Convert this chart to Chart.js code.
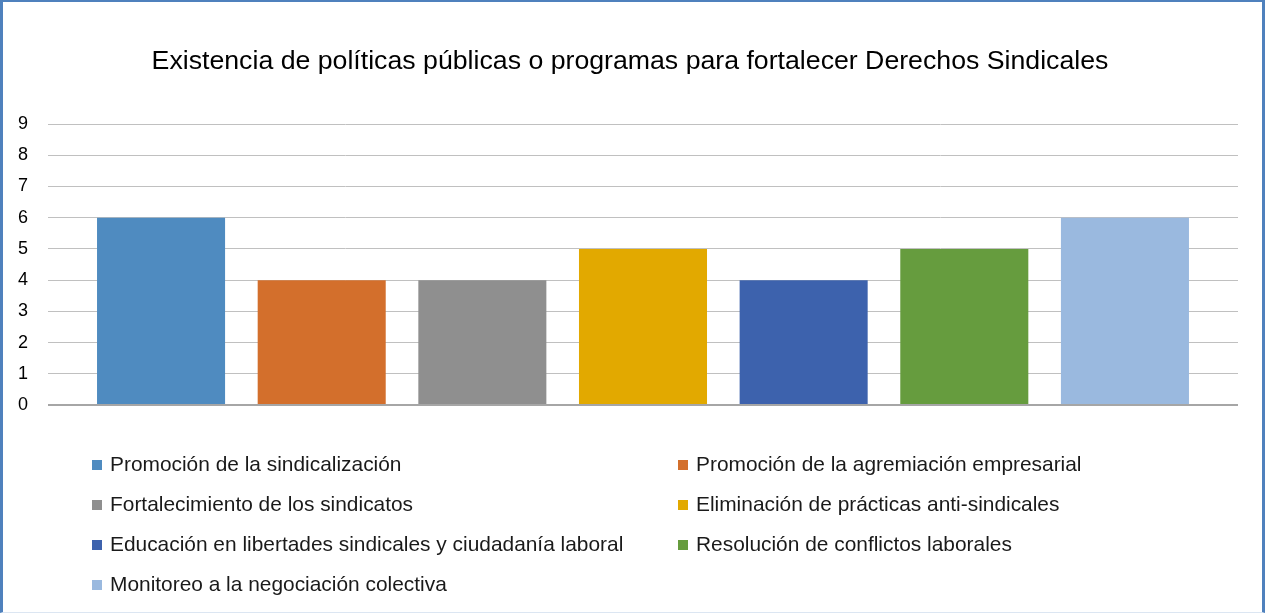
<!DOCTYPE html>
<html>
<head>
<meta charset="utf-8">
<script src="https://cdn.jsdelivr.net/npm/chart.js@4/dist/chart.umd.min.js"></script>
<style>
  html, body { margin: 0; padding: 0; background: #fff; }
  #wrap {
    position: relative; width: 1265px; height: 613px; box-sizing: border-box;
    border-left: 3px solid #4f81bd; border-right: 3px solid #4f81bd; border-top: 2px solid #4f81bd;
    border-bottom: 1px solid #dce6f2;
  }
  #chart { position: absolute; left: -3px; top: -2px; }
  #legend {
    position: absolute; left: 89px; top: 448px; width: 1170px;
    display: grid; grid-template-columns: 586px 500px; row-gap: 0;
    font-family: "Liberation Sans", Arial, sans-serif; font-size: 20.9px; color: #1a1a1a;
  }
  .item { height: 40px; line-height: 28px; white-space: nowrap; }
  .box { display: inline-block; width: 10px; height: 10px; margin-right: 8px; vertical-align: 1px; }
</style>
</head>
<body>
<div id="wrap">
  <canvas id="chart" width="1265" height="613"></canvas>
  <div id="legend"></div>
</div>
<script>
// data
var seriesNames = [
  "Promoción de la sindicalización",
  "Promoción de la agremiación empresarial",
  "Fortalecimiento de los sindicatos",
  "Eliminación de prácticas anti-sindicales",
  "Educación en libertades sindicales y ciudadanía laboral",
  "Resolución de conflictos laborales",
  "Monitoreo a la negociación colectiva"
];
var seriesValues = [6, 4, 4, 5, 4, 5, 6];
var barColors = ["#4f8bc0", "#d36f2c", "#8f8f8f", "#e2a900", "#3d62ad", "#669c3e", "#9ab9df"];
var yTicks = [0, 1, 2, 3, 4, 5, 6, 7, 8, 9];
var chartTitle = "Existencia de políticas públicas o programas para fortalecer Derechos Sindicales";

var datasets = seriesNames.map(function (name, i) {
  return {
    label: name,
    data: [seriesValues[i]],
    backgroundColor: barColors[i],
    categoryPercentage: 0.945,
    barPercentage: 0.797
  };
});

new Chart("chart", {
  type: "bar",
  data: { labels: [""], datasets: datasets },
  options: {
    responsive: false,
    animation: false,
    layout: { padding: { left: 0, right: 5, top: 0, bottom: 200 } },
    plugins: {
      legend: { display: false },
      tooltip: { enabled: false },
      title: {
        display: true,
        text: chartTitle,
        color: "#000",
        font: { family: "Liberation Sans", size: 26.7, weight: "normal" },
        padding: { top: 46, bottom: 46 }
      }
    },
    scales: {
      x: {
        ticks: { display: false },
        grid: { display: false },
        border: { display: false }
      },
      y: {
        min: 0,
        max: yTicks[yTicks.length - 1],
        afterBuildTicks: function (scale) {
          scale.ticks = yTicks.map(function (v) { return { value: v }; });
        },
        afterFit: function (scale) { scale.width = 48; },
        ticks: {
          color: "#000",
          padding: 20,
          font: { family: "Liberation Sans", size: 18 }
        },
        grid: {
          drawTicks: false,
          color: function (c) { return c.tick && c.tick.value === 0 ? "#a6a6a6" : "#c0c0c0"; },
          lineWidth: function (c) { return c.tick && c.tick.value === 0 ? 2 : 1; }
        },
        border: { display: false }
      },
      // empty right axis, only keeps space on the right of the plot
      yRight: {
        position: "right",
        min: 0,
        max: yTicks[yTicks.length - 1],
        afterFit: function (scale) { scale.width = 22; },
        ticks: { display: false },
        grid: { display: false },
        border: { display: false }
      }
    }
  }
});

// legend in two columns
var legend = document.getElementById("legend");
seriesNames.forEach(function (name, i) {
  var item = document.createElement("div");
  item.className = "item";
  var box = document.createElement("span");
  box.className = "box";
  box.style.background = barColors[i];
  item.appendChild(box);
  item.appendChild(document.createTextNode(name));
  legend.appendChild(item);
});
</script>
</body>
</html>
